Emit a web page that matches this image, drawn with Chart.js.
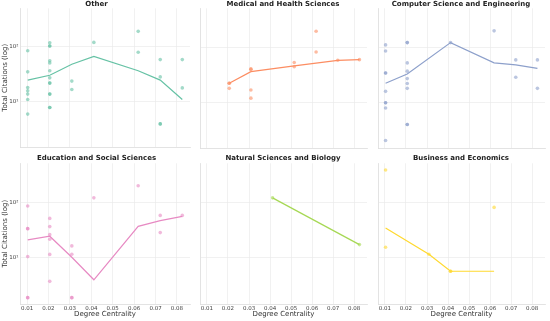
<!DOCTYPE html>
<html>
<head>
<meta charset="utf-8">
<script src="https://cdn.jsdelivr.net/npm/chart.js@4.4.0/dist/chart.umd.min.js"></script>
<style>
  body { margin: 0; background: #fff; }
  #wrap { position: relative; width: 550px; height: 321px; overflow: hidden; }
  #wrap canvas { position: absolute; }
</style>
</head>
<body>
<div id="wrap"></div>
<script>
// x = degree centrality, y = total citations
var xTicks = [0.01, 0.02, 0.03, 0.04, 0.05, 0.06, 0.07, 0.08];
var yTicks = [10, 100];

var otherPoints = [
    [0.0103, 85], [0.0103, 35], [0.0103, 18], [0.0103, 15.7], [0.0103, 13.7], [0.0103, 10.9], [0.0103, 5.9],
    [0.0206, 119], [0.0206, 104], [0.0206, 104], [0.0206, 56], [0.0206, 51], [0.0206, 36.6], [0.0206, 27.2],
    [0.0206, 21.8], [0.0206, 21.8], [0.0206, 13.7], [0.0206, 13.7], [0.0206, 7.8], [0.0206, 7.8],
    [0.0309, 23.7], [0.0309, 16.6],
    [0.0412, 121],
    [0.0619, 193], [0.0619, 80],
    [0.0722, 58.6], [0.0722, 28.3], [0.0722, 3.9], [0.0722, 3.9],
    [0.0825, 58.6], [0.0825, 17.8]
];
var otherLineX = [0.0103, 0.0206, 0.0309, 0.0412, 0.0619, 0.0722, 0.0825];
var otherLineY = [24.7, 30.3, 48.3, 67, 36.6, 24.7, 10.9];

var medPoints = [
    [0.0206, 22.1], [0.0206, 22.1], [0.0206, 17.8],
    [0.0309, 39.8], [0.0309, 39.8], [0.0309, 16.6], [0.0309, 11.8],
    [0.0515, 52.5], [0.0515, 44],
    [0.0619, 195], [0.0619, 81.5],
    [0.0722, 57.7],
    [0.0825, 59.3]
];
var medLineX = [0.0206, 0.0309, 0.0515, 0.0722, 0.0825];
var medLineY = [22.1, 35.8, 45.8, 57.7, 59.3];

var csPoints = [
    [0.0103, 110], [0.0103, 85], [0.0103, 33.8], [0.0103, 33.8], [0.0103, 15.7], [0.0103, 9.7], [0.0103, 9.7],
    [0.0103, 7.8], [0.0103, 2],
    [0.0206, 121], [0.0206, 121], [0.0206, 51.7], [0.0206, 36.6], [0.0206, 26.8], [0.0206, 21.8], [0.0206, 17.8],
    [0.0206, 3.9], [0.0206, 3.9],
    [0.0412, 121],
    [0.0619, 198],
    [0.0722, 58.6], [0.0722, 28.3],
    [0.0825, 58.6], [0.0825, 17.8]
];
var csLineX = [0.0103, 0.0206, 0.0412, 0.0619, 0.0722, 0.0825];
var csLineY = [22.1, 32.4, 121, 51.7, 47.7, 41];

var eduPoints = [
    [0.0103, 86], [0.0103, 33.6], [0.0103, 33.6], [0.0103, 10.5], [0.0103, 1.9], [0.0103, 1.9],
    [0.0206, 51.5], [0.0206, 36.6], [0.0206, 26.2], [0.0206, 21.6], [0.0206, 11.5], [0.0206, 3.75],
    [0.0309, 16.4], [0.0309, 11.6], [0.0309, 1.9], [0.0309, 1.9],
    [0.0412, 121],
    [0.0619, 200],
    [0.0722, 58.3], [0.0722, 28.5],
    [0.0825, 58.3]
];
var eduLineX = [0.0103, 0.0206, 0.0309, 0.0412, 0.0619, 0.0722, 0.0825];
var eduLineY = [21.1, 24.5, 10.2, 4.0, 37, 46.9, 56];

var natPoints = [[0.0412, 121], [0.0825, 17.3]];
var natLineX = [0.0412, 0.0825];
var natLineY = [121, 17.3];

var busPoints = [
    [0.0103, 387], [0.0103, 15.5],
    [0.0309, 11.6],
    [0.0412, 5.7], [0.0412, 5.7],
    [0.0619, 81.3]
];
var busLineX = [0.0103, 0.0309, 0.0412, 0.0619];
var busLineY = [34.6, 11.6, 5.7, 5.7];

var panels = [
    {title: 'Other', color: '102,194,165', pts: otherPoints, lx: otherLineX, ly: otherLineY, col: 0, row: 0},
    {title: 'Medical and Health Sciences', color: '252,141,98', pts: medPoints, lx: medLineX, ly: medLineY, col: 1, row: 0},
    {title: 'Computer Science and Engineering', color: '141,160,203', pts: csPoints, lx: csLineX, ly: csLineY, col: 2, row: 0},
    {title: 'Education and Social Sciences', color: '231,138,195', pts: eduPoints, lx: eduLineX, ly: eduLineY, col: 0, row: 1},
    {title: 'Natural Sciences and Biology', color: '166,216,84', pts: natPoints, lx: natLineX, ly: natLineY, col: 1, row: 1},
    {title: 'Business and Economics', color: '255,217,47', pts: busPoints, lx: busLineX, ly: busLineY, col: 2, row: 1}
];

var plotLefts = [20, 196.5, 374.5];
var plotW = 173;
var fontFam = "'DejaVu Sans', sans-serif";
var gridCol = '#ebebeb';

var wrap = document.getElementById('wrap');

panels.forEach(function (p) {
    var leftCol = p.col == 0;
    var bottomRow = p.row == 1;
    var yW = leftCol ? 20 : 1;
    var xH = bottomRow ? 17 : 1;
    var canvasLeft = plotLefts[p.col] - yW;
    var canvasTop = bottomRow ? 152 : 0;
    var canvasH = bottomRow ? 169 : 152;
    var canvasW = yW + plotW + 1;

    var c = document.createElement('canvas');
    c.style.left = canvasLeft + 'px';
    c.style.top = canvasTop + 'px';
    c.style.width = canvasW + 'px';
    c.style.height = canvasH + 'px';
    c.width = canvasW;
    c.height = canvasH;
    wrap.appendChild(c);

    var scatter = p.pts.map(function (d) { return {x: d[0], y: d[1]}; });
    var line = p.lx.map(function (x, i) { return {x: x, y: p.ly[i]}; });

    new Chart(c, {
        type: 'scatter',
        data: {
            datasets: [
                {
                    type: 'line',
                    data: line,
                    borderColor: 'rgb(' + p.color + ')',
                    borderWidth: 1.2,
                    pointRadius: 0,
                    fill: false,
                    tension: 0
                },
                {
                    data: scatter,
                    backgroundColor: 'rgba(' + p.color + ',0.6)',
                    borderWidth: 0,
                    pointRadius: 1.8
                }
            ]
        },
        options: {
            responsive: false,
            animation: false,
            layout: {padding: {left: 0, right: 1, top: 0, bottom: 0}},
            plugins: {
                legend: {display: false},
                tooltip: {enabled: false},
                title: {
                    display: true,
                    text: p.title,
                    color: '#222',
                    font: {family: fontFam, size: 7, weight: 'bold', lineHeight: 1},
                    padding: bottomRow ? {top: 3, bottom: 1.3} : {top: 1, bottom: 0.3}
                }
            },
            scales: {
                x: {
                    type: 'linear',
                    min: 0.0067,
                    max: 0.0861,
                    bounds: 'data',
                    afterBuildTicks: function (s) {
                        s.ticks = xTicks.map(function (v) { return {value: v}; });
                    },
                    afterFit: function (s) { s.height = xH; },
                    grid: {color: gridCol, lineWidth: 0.7, drawTicks: false},
                    border: {color: '#dcdcdc', width: 0.8},
                    ticks: {
                        display: bottomRow,
                        padding: 1,
                        color: '#444',
                        font: {family: fontFam, size: 5.5},
                        maxRotation: 0,
                        callback: function (v) { return v.toFixed(2); }
                    },
                    title: {
                        display: bottomRow,
                        text: 'Degree Centrality',
                        color: '#333',
                        font: {family: fontFam, size: 7},
                        padding: {top: 0, bottom: 2.5}
                    }
                },
                y: {
                    type: 'logarithmic',
                    min: 1.46,
                    max: 510,
                    afterBuildTicks: function (s) {
                        s.ticks = yTicks.map(function (v) { return {value: v}; });
                    },
                    afterFit: function (s) { s.width = yW; },
                    grid: {color: gridCol, lineWidth: 0.7, drawTicks: false},
                    border: {color: '#dcdcdc', width: 0.8},
                    ticks: {
                        display: leftCol,
                        padding: 1.5,
                        color: '#444',
                        font: {family: fontFam, size: 5.5},
                        callback: function (v) { return v == 10 ? '10\u00b9' : '10\u00b2'; }
                    },
                    title: {
                        display: leftCol,
                        text: 'Total Citations (log)',
                        color: '#333',
                        font: {family: fontFam, size: 7},
                        padding: {top: 1, bottom: 0}
                    }
                }
            }
        }
    });
});
</script>
</body>
</html>
